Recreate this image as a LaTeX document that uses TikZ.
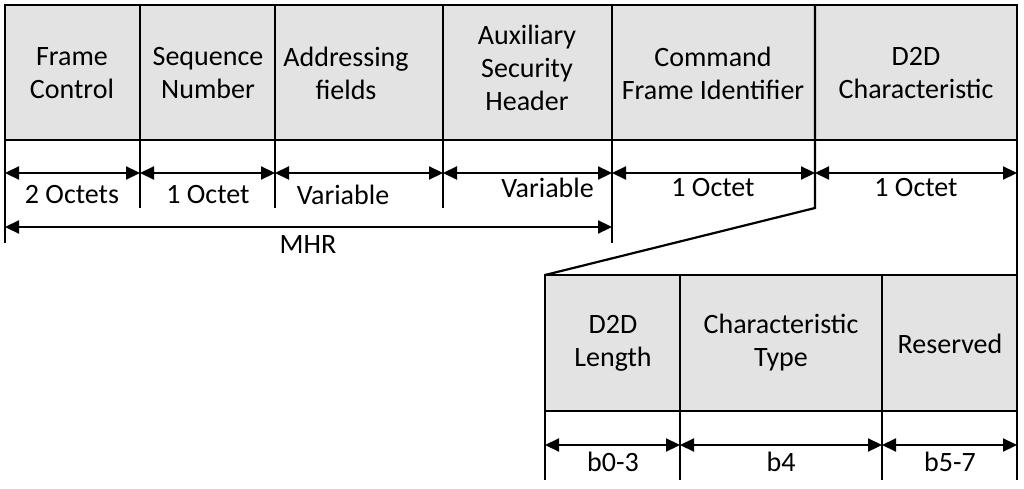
\documentclass[tikz,border=0pt]{standalone}
\usepackage{fontspec}
\setmainfont{Carlito}
\usetikzlibrary{arrows.meta}
\begin{document}
\begin{tikzpicture}[x=1pt,y=-1pt,
  ln/.style={line width=2.2pt},
  box/.style={fill=gray!22,draw=black,line width=1.6pt},
  dim/.style={line width=2.2pt,{Triangle[length=14pt,width=13pt]}-{Triangle[length=14pt,width=13pt]}},
  lbl/.style={font=\fontsize{28}{33}\selectfont,align=center,inner sep=0pt},
  lab/.style={font=\fontsize{28}{33}\selectfont,inner sep=0pt}]
\useasboundingbox (0,0) rectangle (1024,489);
% top boxes
\foreach \a/\b in {5/140,140/275,275/443,443/612,612/815,815/1017}
  \draw[box] (\a,5) rectangle (\b,140);
\node[lbl] (fc) at (72,73) {Frame\\Control};
\node[lbl] (sn) at (208,73) {Sequence\\Number};
\node[lbl] (af) at (346,73) {Addressing\\fields};
\node[lbl] (ash) at (527,68) {Auxiliary\\Security\\Header};
\node[lbl] (cfi) at (713,73) {Command\\Frame Identifier};
\node[lbl] (d2d) at (916,73) {D2D\\Characteristic};
% vertical ticks
\draw[ln] (5,5) -- (5,243);
\draw[ln] (612,5) -- (612,243);
\foreach \x in {140,275,443} \draw[ln] (\x,5) -- (\x,208);
\draw[ln] (815,5) -- (815,208) coordinate (z1) -- (545,275) coordinate (z2);
\draw[ln] (1017,5) -- (1017,480);
% dims
\foreach \a/\b in {5/140,140/275,275/443,443/612,612/815,815/1017}
  \draw[dim] (\a,173) -- (\b,173);
\node[lab] (l1) at (72,195) {2 Octets};
\node[lab] (l2) at (208,195) {1 Octet};
\node[lab] (l3) at (343,195) {Variable};
\node[lab,anchor=east] (l4) at (594,188) {Variable};
\node[lab] (l5) at (713,188) {1 Octet};
\node[lab] (l6) at (916,188) {1 Octet};
\draw[dim] (5,227) -- (612,227);
\node[lab] (mhr) at (308,245) {MHR};
% bottom boxes
\foreach \a/\b in {545/680,680/882,882/1017}
  \draw[box] (\a,275) rectangle (\b,411);
\node[lbl] (len) at (613,343) {D2D\\Length};
\node[lbl] (ct) at (781,343) {Characteristic\\Type};
\node[lbl] (res) at (950,344) {Reserved};
\foreach \x in {545,680,882} \draw[ln] (\x,275) -- (\x,480);
\foreach \a/\b in {545/680,680/882,882/1017}
  \draw[dim] (\a,445) -- (\b,445);
\node[lab] (b1) at (613,462) {b0-3};
\node[lab] (b2) at (781,462) {b4};
\node[lab] (b3) at (950,462) {b5-7};
\end{tikzpicture}
\end{document}
